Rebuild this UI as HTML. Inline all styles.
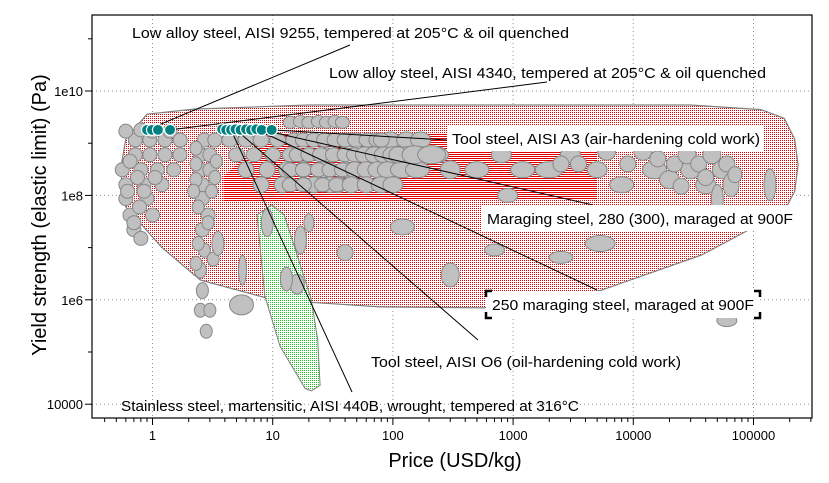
<!DOCTYPE html>
<html><head><meta charset="utf-8">
<style>
html,body{margin:0;padding:0;background:#fff;}
svg{display:block;font-family:"Liberation Sans","DejaVu Sans",sans-serif;}
</style></head>
<body>
<svg id="chart" width="829" height="483" viewBox="0 0 829 483" xmlns="http://www.w3.org/2000/svg">
<defs>
<pattern id="reddots" width="2" height="2" patternUnits="userSpaceOnUse"><rect width="2" height="2" fill="#fff"/><rect width="1" height="1" fill="#e00000"/></pattern>
<pattern id="redlines" width="2" height="2" patternUnits="userSpaceOnUse"><rect width="2" height="2" fill="#fff"/><rect width="2" height="1" fill="#e00000"/></pattern>
<pattern id="greendots" width="2" height="2" patternUnits="userSpaceOnUse"><rect width="2" height="2" fill="#fff"/><rect width="1" height="1" fill="#20c020"/></pattern>
<clipPath id="plotclip"><rect x="92" y="15" width="720" height="403"/></clipPath>
</defs>
<g id="grid"></g>
<g id="envelopes" clip-path="url(#plotclip)"></g>
<g id="bubbles" clip-path="url(#plotclip)"></g>
<g id="leaders"></g>
<g id="highlights"></g>
<g id="labels"></g>
<g id="axes"></g>
<text x="455" y="467" font-size="20" text-anchor="middle" fill="#000">Price (USD/kg)</text>
<text transform="translate(46,215) rotate(-90)" font-size="20" text-anchor="middle" fill="#000">Yield strength (elastic limit) (Pa)</text>
</svg>
<script>
// ---- data ----
const xTickValues = [1, 10, 100, 1000, 10000, 100000];
const xTickLabels = ["1", "10", "100", "1000", "10000", "100000"];
const yTickValues = [1e4, 1e6, 1e8, 1e10];
const yTickLabels = ["10000", "1e6", "1e8", "1e10"];

// envelope outline (price, strength)
const envPrice = [0.9, 2.2, 20, 1500, 30000, 115000, 180000, 220000, 235000, 220000, 180000, 37000, 5300, 580, 78, 20, 8.6, 2.5, 1.2, 0.6, 0.54, 0.6];
const envStrength = [3.6e9, 4.5e9, 5.4e9, 5.4e9, 5.4e9, 4.4e9, 3e9, 1.2e9, 3.8e8, 1.2e8, 5e7, 7.2e6, 1.5e6, 7e5, 7.3e5, 9e5, 1.1e6, 2.4e6, 1e7, 6e7, 3e8, 1.2e9];
// hardened striped zone
const zonePrice = [9, 4000, 5000, 5000, 3.9, 3.9];
const zoneStrength = [1.5e9, 1.5e9, 1.2e9, 8.5e7, 7.5e7, 2.3e8];
// narrow spindle envelope
const spinPrice = [9.8, 12.5, 21, 23.7, 24.8, 21, 18.6, 11.5, 8.6, 7.4];
const spinStrength = [6.6e7, 4.2e7, 1e6, 1.7e5, 2.3e4, 1.8e4, 2e4, 1.3e5, 1.2e6, 4.2e7];

// gray material bubbles
const bubPrice = [0.72,0.95,1.27,0.72,0.95,1.27,1.69,0.56,0.8,1.1,1.5,0.6,0.85,1.2,0.6,0.9,0.65,1.0,0.7,
 0.6,0.8,1.0,1.4,1.7,0.65,0.75,0.85,1.05,0.62,0.78,0.7,0.8,
 2.7,3.3,2.5,3.0,2.5,3.0,2.6,2.6,2.9,2.6,2.7,2.5,2.6,2.5,3.0,2.8,
 2.3,2.3,2.3,2.2,3.3,3.4,2.4,3.1,2.9,2.4,3.2,2.3,
 4.4,6,8,11,15,5,7,10,14,20,28,6,9,13,18,26,40,8,12,22,35,30,45,60,
 18,22,27,33,40,50,62,75,95,130,170,
 16,20,25,32,40,48,58,70,85,100,130,170,230,
 14,18,24,30,38,48,60,75,90,120,160,
 14,18,26,34,45,60,80,100,
 14,17,20,24,28,33,38,
 80,110,150,210,300,500,800,1200,2000,3000,5000,8000,15000,20000,30000,40000,55000,50000,65000,
 2500,3500,6000,9000,12000,16000,22000,28000,35000,45000,60000,70000,25000,40000,
 137000,5300,300,5.6,17,16,20,5.5,120,900,2500,25000,60000,700,3.5,13,9,40];
const bubStrength = [1.15e9,1.15e9,1.15e9,6e8,6e8,6e8,6e8,3.1e8,3.1e8,3.1e8,3.1e8,1.6e8,1.6e8,1.6e8,8.7e7,8.7e7,4.2e7,4.2e7,2.2e7,
 1.7e9,1.8e9,1.7e9,1.7e9,1.15e9,4.5e8,2.2e8,1.2e8,2.2e8,1.2e8,6e7,3e7,1.5e7,
 1.15e9,1.15e9,6e8,6e8,3.1e8,3.1e8,1.6e8,8.7e7,4.2e7,2.2e7,8.9e6,3.7e6,1.5e6,6.3e5,6.3e5,2.5e5,
 8e8,4e8,2e8,1.2e8,2.2e8,4.5e8,6e7,1.2e8,3e7,1.2e7,6e6,5e6,
 1.15e9,1.15e9,1.15e9,1.15e9,1.15e9,6e8,6e8,6e8,6e8,6e8,6e8,3.1e8,3.1e8,3.1e8,3.1e8,3.1e8,3.1e8,1.6e8,1.6e8,1.6e8,1.6e8,1.6e8,1.15e9,6e8,
 1.15e9,1.15e9,1.15e9,1.15e9,1.15e9,1.15e9,1.15e9,1.15e9,1.15e9,1.15e9,1.15e9,
 6e8,6e8,6e8,6e8,6e8,6e8,6e8,6e8,6e8,6e8,6e8,6e8,6e8,
 3.1e8,3.1e8,3.1e8,3.1e8,3.1e8,3.1e8,3.1e8,3.1e8,3.1e8,3.1e8,3.1e8,
 1.6e8,1.6e8,1.6e8,1.6e8,1.6e8,1.6e8,1.6e8,1.6e8,
 2.5e9,2.6e9,2.5e9,2.6e9,2.5e9,2.6e9,2.5e9,
 1.15e9,6e8,6e8,6e8,3.1e8,3.1e8,6e8,3.1e8,3.1e8,6e8,3.1e8,1.6e8,3.1e8,2e8,3.1e8,1.6e8,3.1e8,8.7e7,1.6e8,
 4e8,4e8,7e8,4e8,7e8,5e8,4e8,6e8,4e8,6e8,4e8,2.5e8,1.5e8,2.2e8,
 1.6e8,1.2e7,3e6,3.7e6,1.4e7,2e6,3e7,8e5,2.5e7,1e8,6.5e6,3.5e7,4e5,9e6,1.2e7,2.5e6,3e7,8e6];
const bubRx = [7,7,7,7,7,7,7,7,7,7,7,7,7,7,7,7,7,7,7,
 7,7,7,7,7,7,7,7,7,7,7,7,7,
 7,7,7,7,7,7,7,7,7,7,6,6,6,6,6,6,
 6,6,6,6,6,6,6,6,6,6,6,6,
 8,8,8,8,8,8,8,8,8,8,8,8,8,8,8,8,8,8,8,8,8,8,8,8,
 8,8,8,8,8,9,9,9,10,10,10,
 8,8,8,8,8,8,9,9,10,10,12,12,12,
 8,8,8,8,8,9,9,10,10,12,12,
 8,8,8,8,9,9,10,10,
 7,7,7,7,7,7,7,
 8,9,12,14,10,12,10,12,14,10,10,12,12,10,10,10,10,6,8,
 8,8,9,8,9,8,8,9,8,9,8,7,8,8,
 6,15,9,4,6,7,5,12,12,10,12,10,10,10,6,6,6,8];
const bubRy = [7,7,7,7,7,7,7,7,7,7,7,7,7,7,7,7,7,7,7,
 7,7,7,7,7,7,7,7,7,7,7,7,7,
 7,7,7,7,7,7,7,7,7,7,7,8,8,7,7,7,
 7,7,7,7,7,7,7,7,7,7,7,7,
 7,7,7,7,7,7,7,7,7,7,7,8,8,8,8,8,8,8,8,8,8,8,7,7,
 7,7,7,7,7,7,7,7,8,8,8,
 7,7,7,7,7,7,8,8,8,8,8,8,8,
 7,7,7,7,7,8,8,8,8,8,8,
 7,7,7,7,8,8,8,8,
 6,6,6,6,6,6,6,
 7,8,9,9,9,8,8,8,8,8,8,8,9,9,9,9,9,14,12,
 8,8,9,8,9,8,8,9,8,9,8,8,8,8,
 16,8,12,15,14,10,9,10,8,7,6,7,6,6,12,12,14,8];

// highlighted (teal) materials
const hiPrice = [0.9,0.99,1.11,1.4,3.8,4.1,4.5,4.9,5.4,6.0,6.6,7.3,8.1,9.8];
const hiStrength = [1.8e9,1.8e9,1.8e9,1.8e9,1.85e9,1.8e9,1.8e9,1.85e9,1.8e9,1.85e9,1.8e9,1.85e9,1.8e9,1.8e9];

// annotations
const annText = ["Low alloy steel, AISI 9255, tempered at 205°C & oil quenched",
 "Low alloy steel, AISI 4340, tempered at 205°C & oil quenched",
 "Tool steel, AISI A3 (air-hardening cold work)",
 "Maraging steel, 280 (300), maraged at 900F",
 "250 maraging steel, maraged at 900F",
 "Tool steel, AISI O6 (oil-hardening cold work)",
 "Stainless steel, martensitic, AISI 440B, wrought, tempered at 316°C"];
const annPrice = [0.9, 1.4, 9.8, 8.1, 7.3, 4.9, 4.5];
const annStrength = [1.8e9, 1.8e9, 1.8e9, 1.8e9, 1.85e9, 1.85e9, 1.8e9];

// ---- scales ----
const X0 = 152.5, XD = 120.2, Y0 = 91, YD = 52.2;
function xs(p){ return X0 + Math.log10(p)*XD; }
function ys(s){ return Y0 + (10 - Math.log10(s))*YD; }
const NS = "http://www.w3.org/2000/svg";
function mk(tag, parent, attrs){ const e=document.createElementNS(NS,tag); for(const k in attrs) e.setAttribute(k,attrs[k]); parent.appendChild(e); return e; }
const L=92,R=812,T=15,B=418;

// grid
const grid=document.getElementById('grid');
xTickValues.forEach((v,i)=>{
  const l=mk('line',grid,{x1:xs(v),x2:xs(v),y1:T,y2:B,stroke:'#909090','stroke-width':1,'stroke-dasharray':'1,3'});
  
  
});
yTickValues.forEach((v,i)=>{
  const l=mk('line',grid,{x1:L,x2:R,y1:ys(v),y2:ys(v),stroke:'#909090','stroke-width':1,'stroke-dasharray':'1,3'});
  
  
});

// envelopes
const env=document.getElementById('envelopes');
function poly(px,sy){ return px.map((p,i)=>xs(p).toFixed(1)+','+ys(sy[i]).toFixed(1)).join(' '); }
const e1=mk('polygon',env,{points:poly(envPrice,envStrength),fill:'url(#reddots)',stroke:'#808080','stroke-width':1.2,'stroke-linejoin':'round'});


const e2=mk('polygon',env,{points:poly(zonePrice,zoneStrength),fill:'url(#redlines)',stroke:'none'});


const e3=mk('polygon',env,{points:poly(spinPrice,spinStrength),fill:'url(#greendots)',stroke:'#808080','stroke-width':1,'stroke-linejoin':'round'});



// bubbles
const bub=document.getElementById('bubbles');
bubPrice.forEach((p,i)=>{
  const c=mk('ellipse',bub,{cx:xs(p),cy:ys(bubStrength[i]),rx:bubRx[i],ry:bubRy[i],fill:'#c0c0c0',stroke:'#888','stroke-width':1});
  
  
});

// leaders & labels
const lead=document.getElementById('leaders'), lab=document.getElementById('labels');
const boxes=[
 {tx:132,ty:38,w:437,box:false,ex:350,ey:45},
 {tx:329,ty:78,w:437,box:false,ex:547,ey:82},
 {tx:452,ty:144,w:308,box:true,bx:447,by:126,bw:317,bh:25,ex:447,ey:140},
 {tx:487,ty:224,w:306,box:true,bx:482,by:205,bw:313,bh:26,ex:593,ey:205},
 {tx:492,ty:310,w:262,box:true,bx:486,by:291,bw:274,bh:27,ex:597,ey:290,br:true},
 {tx:371,ty:367,w:310,box:false,ex:478,ey:340},
 {tx:121,ty:411,w:458,box:false,ex:352,ey:392}
];
annText.forEach((t,i)=>{
  const b=boxes[i];
  const ln=mk('line',lead,{x1:xs(annPrice[i]),y1:ys(annStrength[i]),x2:b.ex,y2:b.ey,stroke:'#000','stroke-width':1});
  
  
  if(b.box){
    const r=mk('rect',lab,{x:b.bx,y:b.by,width:b.bw,height:b.bh,fill:'#fff'});
    
    
    if(b.br){
      const x1=b.bx,y1=b.by,x2=b.bx+b.bw,y2=b.by+b.bh;
      const d=`M${x1},${y1+6}V${y1}H${x1+6} M${x2-6},${y1}H${x2}V${y1+6} M${x1},${y2-6}V${y2}H${x1+6} M${x2-6},${y2}H${x2}V${y2-6}`;
      const pth=mk('path',lab,{d:d,fill:'none',stroke:'#000','stroke-width':2.5});
      
      
    }
  }
  const tx=mk('text',lab,{x:b.tx,y:b.ty,'font-size':14.5,fill:'#000',textLength:b.w,lengthAdjust:'spacingAndGlyphs'});
  tx.textContent=t;
  
  
});

// highlighted points
const hi=document.getElementById('highlights');
hiPrice.forEach((p,i)=>{
  const c=mk('circle',hi,{cx:xs(p),cy:ys(hiStrength[i]),r:5.5,fill:'#008080',stroke:'#fff','stroke-width':1.2});
  
  
});

// axes
const ax=document.getElementById('axes');
const fr=mk('rect',ax,{x:L,y:T,width:R-L,height:B-T,fill:'none',stroke:'#000','stroke-width':1.2});


for(let d=-1; d<=5; d++){
  for(let m=1;m<=9;m++){
    const x=xs(m*Math.pow(10,d));
    if(x<L||x>R) continue;
    const t=mk('line',ax,{x1:x,x2:x,y1:B,y2:B+(m===1?7:4),stroke:'#000','stroke-width':1});
    
    
  }
}
xTickValues.forEach((v,i)=>{
  const t=mk('text',ax,{x:xs(v),y:B+22,'font-size':13,'text-anchor':'middle',fill:'#000'});
  t.textContent=xTickLabels[i];
  
  
});
for(let e=4;e<=11;e++){
  const y=ys(Math.pow(10,e));
  if(y<T||y>B+1) continue;
  const t=mk('line',ax,{x1:L-(e%2===0?7:4),x2:L,y1:y,y2:y,stroke:'#000','stroke-width':1});
  
  
}
yTickValues.forEach((v,i)=>{
  const t=mk('text',ax,{x:L-9,y:ys(v)+5,'font-size':13,'text-anchor':'end',fill:'#000'});
  t.textContent=yTickLabels[i];
  
  
});
</script>
</body></html>
